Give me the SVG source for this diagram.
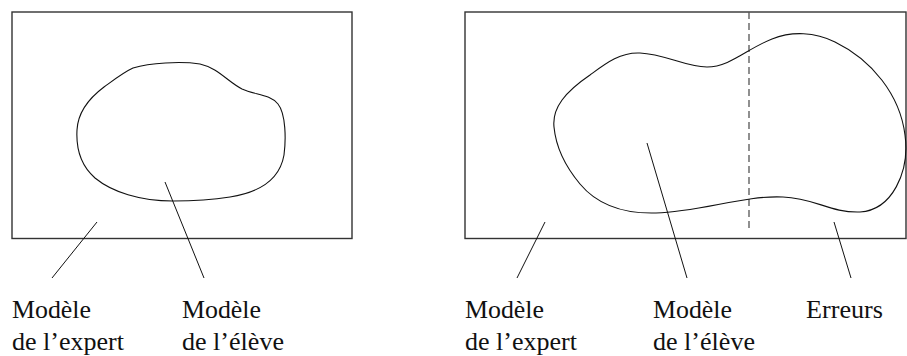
<svg xmlns="http://www.w3.org/2000/svg" width="907" height="356" viewBox="0 0 907 356">
<style>
.frame{fill:none;stroke:#333;stroke-width:1.4}
.blob{fill:none;stroke:#111;stroke-width:1.1}
.ptr{fill:none;stroke:#111;stroke-width:1}
.dash{fill:none;stroke:#555;stroke-width:1.3;stroke-dasharray:7 4}
.lbl{font-family:'Liberation Serif','Times New Roman',Times,'DejaVu Serif','Noto Serif',serif;font-size:26px;fill:#111}
</style>
<rect width="907" height="356" fill="#fff"/>
<g id="left-panel">
<rect class="frame" x="12" y="12" width="340" height="226.5"/>
<path class="blob" d="M133,68 C150,63 180,61 200,64 C218,68 228,82 242,89 C255,95 270,94 278,104 C286,114 286,140 284,155 C280,178 262,192 230,197 C205,201 185,201 173,201 C140,201 112,192 95,178 C80,165 76,148 77,130 C78,110 92,96 104,87 C115,79 124,72 133,68 Z"/>
</g>
<g id="right-panel">
<rect class="frame" x="465" y="12" width="441" height="226.5"/>
<line class="dash" x1="749" y1="12" x2="749" y2="232"/>
<path class="blob" d="M554,127 C552,108 565,92 590,75 C605,64 620,52 640,53 C665,54 685,67 707,67 C730,67 748,48 772,39 C792,31 815,32 835,42 C872,60 900,95 905,135 C910,172 892,210 860,212 C830,213 815,198 783,197 C745,195 700,212 656,213 C620,214 595,202 580,184 C565,166 556,148 554,127 Z"/>
</g>
<g id="connectors">
<line class="ptr" x1="97" y1="222" x2="52" y2="278"/>
<line class="ptr" x1="165" y1="182" x2="204" y2="278"/>
<line class="ptr" x1="545" y1="222" x2="517" y2="278"/>
<line class="ptr" x1="647" y1="143" x2="687" y2="278"/>
<line class="ptr" x1="834" y1="222" x2="851" y2="278"/>
</g>
<g id="label-expert-left">
<text class="lbl" x="12" y="318" textLength="79" lengthAdjust="spacingAndGlyphs">Modèle</text>
<text class="lbl" x="12" y="350" textLength="112" lengthAdjust="spacingAndGlyphs">de l’expert</text>
</g>
<g id="label-eleve-left">
<text class="lbl" x="182" y="318" textLength="79" lengthAdjust="spacingAndGlyphs">Modèle</text>
<text class="lbl" x="182" y="350" textLength="102" lengthAdjust="spacingAndGlyphs">de l’élève</text>
</g>
<g id="label-expert-right">
<text class="lbl" x="465" y="318" textLength="79" lengthAdjust="spacingAndGlyphs">Modèle</text>
<text class="lbl" x="465" y="350" textLength="112" lengthAdjust="spacingAndGlyphs">de l’expert</text>
</g>
<g id="label-eleve-right">
<text class="lbl" x="653" y="318" textLength="79" lengthAdjust="spacingAndGlyphs">Modèle</text>
<text class="lbl" x="653" y="350" textLength="102" lengthAdjust="spacingAndGlyphs">de l’élève</text>
</g>
<g id="label-erreurs">
<text class="lbl" x="806" y="318" textLength="77" lengthAdjust="spacingAndGlyphs">Erreurs</text>
</g>
</svg>
